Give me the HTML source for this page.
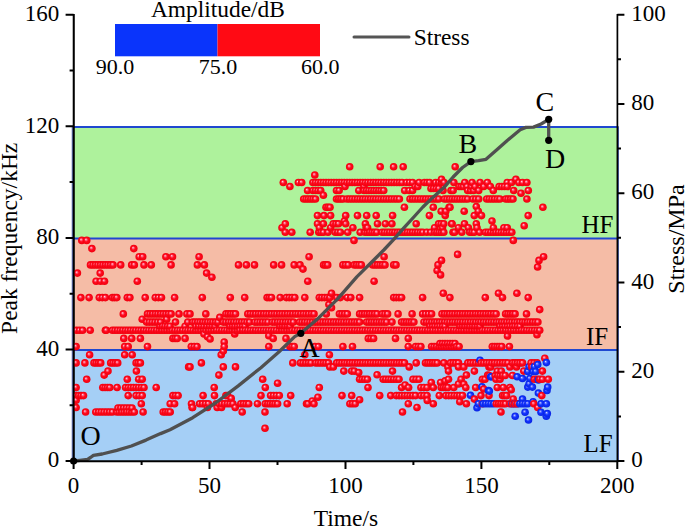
<!DOCTYPE html>
<html><head><meta charset="utf-8"><title>Peak frequency vs time</title>
<style>html,body{margin:0;padding:0;background:#fff;width:685px;height:528px;overflow:hidden}svg{display:block}</style>
</head><body>
<svg width="685" height="528" viewBox="0 0 685 528">
<defs>
<radialGradient id="gr" cx="50%" cy="50%" r="50%" fx="38%" fy="36%">
<stop offset="0" stop-color="#ffe0ee"/><stop offset="0.22" stop-color="#ff6a86"/><stop offset="0.5" stop-color="#ff0a1e"/><stop offset="1" stop-color="#f0000e"/></radialGradient>
<radialGradient id="gb" cx="50%" cy="50%" r="50%" fx="38%" fy="36%">
<stop offset="0" stop-color="#e0e4ff"/><stop offset="0.22" stop-color="#6a7cff"/><stop offset="0.5" stop-color="#1032ff"/><stop offset="1" stop-color="#0a24e0"/></radialGradient>
<symbol id="r" overflow="visible"><circle r="3.8" fill="url(#gr)"/></symbol>
<symbol id="b" overflow="visible"><circle r="3.8" fill="url(#gb)"/></symbol>
<clipPath id="pc"><rect x="72.8" y="0" width="560" height="470"/></clipPath>
</defs>
<rect width="685" height="528" fill="#fff"/>
<rect x="73.6" y="126.3" width="543.8" height="111.6" fill="#aef29c"/>
<rect x="73.6" y="237.9" width="543.8" height="111.6" fill="#f5bca6"/>
<rect x="73.6" y="349.4" width="543.8" height="111.6" fill="#a5cff6"/>
<line x1="73.6" x2="617.4" y1="127" y2="127" stroke="#1f48d0" stroke-width="2"/>
<line x1="73.6" x2="617.4" y1="238.6" y2="238.6" stroke="#1f48d0" stroke-width="2"/>
<line x1="73.6" x2="617.4" y1="350.1" y2="350.1" stroke="#1f48d0" stroke-width="2"/>
<line x1="72.3" x2="72.3" y1="126.3" y2="461.0" stroke="#4a60b0" stroke-width="1.1"/>
<line x1="618.4" x2="618.4" y1="126.3" y2="461.0" stroke="#4a60b0" stroke-width="1.1"/>
<g stroke="#000" stroke-width="1.7" fill="none"><path d="M73.7,13.9V462"/></g>
<g clip-path="url(#pc)">
<use href="#r" x="76.1" y="346.6"/>
<use href="#r" x="76.1" y="362.9"/>
<use href="#r" x="76.1" y="387.5"/>
<use href="#r" x="76.1" y="395.6"/>
<use href="#r" x="76.1" y="400.2"/>
<use href="#r" x="76.1" y="407.5"/>
<use href="#r" x="76.5" y="330.3"/>
<use href="#r" x="77.4" y="273.1"/>
<use href="#r" x="78.6" y="395.6"/>
<use href="#r" x="79.5" y="330.3"/>
<use href="#r" x="80.9" y="297.6"/>
<use href="#r" x="81" y="395.6"/>
<use href="#r" x="81.8" y="240.4"/>
<use href="#r" x="82.6" y="330.3"/>
<use href="#r" x="83.5" y="395.6"/>
<use href="#r" x="84.9" y="362.9"/>
<use href="#r" x="85.6" y="412"/>
<use href="#r" x="86.7" y="240.4"/>
<use href="#r" x="86.7" y="379.3"/>
<use href="#r" x="89.1" y="297.6"/>
<use href="#r" x="89.6" y="354.8"/>
<use href="#r" x="90.2" y="330.3"/>
<use href="#r" x="90.5" y="264.9"/>
<use href="#r" x="91.9" y="248.6"/>
<use href="#r" x="93" y="264.9"/>
<use href="#r" x="94" y="362.9"/>
<use href="#r" x="95.5" y="264.9"/>
<use href="#r" x="95.8" y="412"/>
<use href="#r" x="96.1" y="281.2"/>
<use href="#r" x="96.2" y="362.9"/>
<use href="#r" x="98" y="264.9"/>
<use href="#r" x="98.5" y="362.9"/>
<use href="#r" x="98.6" y="412"/>
<use href="#r" x="99.3" y="297.6"/>
<use href="#r" x="100.2" y="273.1"/>
<use href="#r" x="100.5" y="264.9"/>
<use href="#r" x="100.5" y="281.2"/>
<use href="#r" x="100.7" y="362.9"/>
<use href="#r" x="101.3" y="412"/>
<use href="#r" x="102.3" y="297.6"/>
<use href="#r" x="102.8" y="387.5"/>
<use href="#r" x="103" y="264.9"/>
<use href="#r" x="104.1" y="412"/>
<use href="#r" x="104.2" y="375.1"/>
<use href="#r" x="104.5" y="281.2"/>
<use href="#r" x="105.1" y="387.5"/>
<use href="#r" x="105.4" y="297.6"/>
<use href="#r" x="105.4" y="330.3"/>
<use href="#r" x="105.5" y="264.9"/>
<use href="#r" x="106.3" y="330.3"/>
<use href="#r" x="106.9" y="412"/>
<use href="#r" x="107.5" y="387.5"/>
<use href="#r" x="108" y="264.9"/>
<use href="#r" x="108" y="371.1"/>
<use href="#r" x="109.6" y="412"/>
<use href="#r" x="109.8" y="387.5"/>
<use href="#r" x="110.5" y="264.9"/>
<use href="#r" x="110.7" y="362.9"/>
<use href="#r" x="112.4" y="297.6"/>
<use href="#r" x="112.4" y="330.3"/>
<use href="#r" x="112.4" y="412"/>
<use href="#r" x="113" y="264.9"/>
<use href="#r" x="113" y="362.9"/>
<use href="#r" x="114.6" y="297.6"/>
<use href="#r" x="115" y="330.3"/>
<use href="#r" x="115.4" y="362.9"/>
<use href="#r" x="116.8" y="297.6"/>
<use href="#r" x="116.8" y="412"/>
<use href="#r" x="117.1" y="387.5"/>
<use href="#r" x="117.6" y="330.3"/>
<use href="#r" x="117.7" y="362.9"/>
<use href="#r" x="118" y="408"/>
<use href="#r" x="119.3" y="412"/>
<use href="#r" x="120.2" y="330.3"/>
<use href="#r" x="120.7" y="264.9"/>
<use href="#r" x="120.8" y="408"/>
<use href="#r" x="121.8" y="412"/>
<use href="#r" x="122.8" y="330.3"/>
<use href="#r" x="123.3" y="313.9"/>
<use href="#r" x="123.6" y="408"/>
<use href="#r" x="123.8" y="338.4"/>
<use href="#r" x="124.3" y="412"/>
<use href="#r" x="124.7" y="346.6"/>
<use href="#r" x="124.7" y="354.8"/>
<use href="#r" x="125.4" y="330.3"/>
<use href="#r" x="125.6" y="387.5"/>
<use href="#r" x="126.4" y="408"/>
<use href="#r" x="126.8" y="412"/>
<use href="#r" x="127.3" y="297.6"/>
<use href="#r" x="127.3" y="379.3"/>
<use href="#r" x="128" y="330.3"/>
<use href="#r" x="128.2" y="346.6"/>
<use href="#r" x="128.2" y="395.6"/>
<use href="#r" x="128.2" y="387.5"/>
<use href="#r" x="129.2" y="408"/>
<use href="#r" x="129.3" y="412"/>
<use href="#r" x="129.9" y="297.6"/>
<use href="#r" x="130.6" y="330.3"/>
<use href="#r" x="130.9" y="387.5"/>
<use href="#r" x="131.7" y="264.9"/>
<use href="#r" x="131.7" y="338.4"/>
<use href="#r" x="131.8" y="412"/>
<use href="#r" x="132" y="408"/>
<use href="#r" x="132.2" y="354.8"/>
<use href="#r" x="133.2" y="330.3"/>
<use href="#r" x="133.5" y="387.5"/>
<use href="#r" x="133.8" y="248.6"/>
<use href="#r" x="134.3" y="264.9"/>
<use href="#r" x="134.3" y="412"/>
<use href="#r" x="135.8" y="330.3"/>
<use href="#r" x="136.1" y="362.9"/>
<use href="#r" x="136.1" y="395.6"/>
<use href="#r" x="136.1" y="387.5"/>
<use href="#r" x="136.4" y="371.1"/>
<use href="#r" x="137.3" y="281.2"/>
<use href="#r" x="138.2" y="362.9"/>
<use href="#r" x="138.5" y="330.3"/>
<use href="#r" x="138.7" y="379.3"/>
<use href="#r" x="138.7" y="387.5"/>
<use href="#r" x="139.1" y="395.6"/>
<use href="#r" x="139.2" y="256.7"/>
<use href="#r" x="140.4" y="338.4"/>
<use href="#r" x="140.4" y="362.9"/>
<use href="#r" x="141.1" y="330.3"/>
<use href="#r" x="141.3" y="403.8"/>
<use href="#r" x="141.4" y="387.5"/>
<use href="#r" x="142.2" y="319.2"/>
<use href="#r" x="142.2" y="379.3"/>
<use href="#r" x="142.2" y="395.6"/>
<use href="#r" x="142.7" y="256.7"/>
<use href="#r" x="143.1" y="412"/>
<use href="#r" x="143.7" y="330.3"/>
<use href="#r" x="144" y="264.9"/>
<use href="#r" x="144" y="387.5"/>
<use href="#r" x="145.2" y="297.6"/>
<use href="#r" x="146.3" y="330.3"/>
<use href="#r" x="146.6" y="322.1"/>
<use href="#r" x="147.5" y="313.9"/>
<use href="#r" x="147.5" y="346.6"/>
<use href="#r" x="148.9" y="330.3"/>
<use href="#r" x="149.4" y="322.1"/>
<use href="#r" x="150.1" y="313.9"/>
<use href="#r" x="151.3" y="264.9"/>
<use href="#r" x="151.5" y="330.3"/>
<use href="#r" x="152.2" y="322.1"/>
<use href="#r" x="152.7" y="313.9"/>
<use href="#r" x="154.1" y="330.3"/>
<use href="#r" x="155" y="322.1"/>
<use href="#r" x="155.3" y="297.6"/>
<use href="#r" x="155.4" y="313.9"/>
<use href="#r" x="156.2" y="387.5"/>
<use href="#r" x="156.7" y="330.3"/>
<use href="#r" x="157.8" y="322.1"/>
<use href="#r" x="158" y="313.9"/>
<use href="#r" x="158.4" y="297.6"/>
<use href="#r" x="159.3" y="330.3"/>
<use href="#r" x="160" y="326.2"/>
<use href="#r" x="160.6" y="322.1"/>
<use href="#r" x="160.6" y="313.9"/>
<use href="#r" x="161.5" y="297.6"/>
<use href="#r" x="161.9" y="330.3"/>
<use href="#r" x="162.5" y="326.2"/>
<use href="#r" x="163.2" y="412"/>
<use href="#r" x="163.2" y="313.9"/>
<use href="#r" x="164.5" y="330.3"/>
<use href="#r" x="165" y="326.2"/>
<use href="#r" x="165.5" y="412"/>
<use href="#r" x="165.9" y="313.9"/>
<use href="#r" x="165.9" y="256.7"/>
<use href="#r" x="166.7" y="319.2"/>
<use href="#r" x="167.1" y="330.3"/>
<use href="#r" x="167.5" y="326.2"/>
<use href="#r" x="167.9" y="412"/>
<use href="#r" x="168.5" y="313.9"/>
<use href="#r" x="169.7" y="330.3"/>
<use href="#r" x="170" y="326.2"/>
<use href="#r" x="170.2" y="403.8"/>
<use href="#r" x="170.2" y="412"/>
<use href="#r" x="171.1" y="264.9"/>
<use href="#r" x="171.1" y="313.9"/>
<use href="#r" x="172.3" y="330.3"/>
<use href="#r" x="172.5" y="256.7"/>
<use href="#r" x="172.9" y="338.4"/>
<use href="#r" x="172.9" y="395.6"/>
<use href="#r" x="174.6" y="297.6"/>
<use href="#r" x="174.6" y="403.8"/>
<use href="#r" x="174.9" y="330.3"/>
<use href="#r" x="175.1" y="338.4"/>
<use href="#r" x="175.5" y="322.1"/>
<use href="#r" x="175.5" y="395.6"/>
<use href="#r" x="177.2" y="338.4"/>
<use href="#r" x="177.5" y="330.3"/>
<use href="#r" x="178.1" y="395.6"/>
<use href="#r" x="179" y="313.9"/>
<use href="#r" x="180.1" y="330.3"/>
<use href="#r" x="182.7" y="330.3"/>
<use href="#r" x="185.1" y="326.2"/>
<use href="#r" x="185.1" y="338.4"/>
<use href="#r" x="185.4" y="330.3"/>
<use href="#r" x="186.9" y="313.9"/>
<use href="#r" x="187.8" y="322.1"/>
<use href="#r" x="188" y="330.3"/>
<use href="#r" x="188.6" y="366.9"/>
<use href="#r" x="190" y="313.9"/>
<use href="#r" x="190" y="366.9"/>
<use href="#r" x="190.6" y="330.3"/>
<use href="#r" x="191.3" y="346.6"/>
<use href="#r" x="191.5" y="403.8"/>
<use href="#r" x="192.1" y="407.5"/>
<use href="#r" x="192.6" y="322.1"/>
<use href="#r" x="192.6" y="407.5"/>
<use href="#r" x="193.2" y="330.3"/>
<use href="#r" x="194.2" y="346.6"/>
<use href="#r" x="195.1" y="322.1"/>
<use href="#r" x="195.8" y="330.3"/>
<use href="#r" x="196" y="326.2"/>
<use href="#r" x="197" y="346.6"/>
<use href="#r" x="197.4" y="264.9"/>
<use href="#r" x="197.7" y="322.1"/>
<use href="#r" x="198.4" y="330.3"/>
<use href="#r" x="198.7" y="326.2"/>
<use href="#r" x="199.1" y="256.7"/>
<use href="#r" x="199.6" y="403.8"/>
<use href="#r" x="200.2" y="322.1"/>
<use href="#r" x="201" y="330.3"/>
<use href="#r" x="201.4" y="362.9"/>
<use href="#r" x="201.4" y="326.2"/>
<use href="#r" x="202.3" y="297.6"/>
<use href="#r" x="202.5" y="403.8"/>
<use href="#r" x="202.8" y="322.1"/>
<use href="#r" x="203.1" y="395.6"/>
<use href="#r" x="203.6" y="330.3"/>
<use href="#r" x="204" y="334"/>
<use href="#r" x="204.1" y="326.2"/>
<use href="#r" x="204.4" y="264.9"/>
<use href="#r" x="205.3" y="322.1"/>
<use href="#r" x="205.5" y="403.8"/>
<use href="#r" x="205.8" y="313.9"/>
<use href="#r" x="206.2" y="330.3"/>
<use href="#r" x="206.6" y="273.1"/>
<use href="#r" x="206.9" y="326.2"/>
<use href="#r" x="207.5" y="336.7"/>
<use href="#r" x="207.5" y="407.5"/>
<use href="#r" x="207.8" y="322.1"/>
<use href="#r" x="208.4" y="403.8"/>
<use href="#r" x="208.8" y="330.3"/>
<use href="#r" x="209.6" y="326.2"/>
<use href="#r" x="210.1" y="339"/>
<use href="#r" x="210.4" y="322.1"/>
<use href="#r" x="211.4" y="330.3"/>
<use href="#r" x="211.9" y="277.2"/>
<use href="#r" x="212.3" y="326.2"/>
<use href="#r" x="212.9" y="322.1"/>
<use href="#r" x="214" y="330.3"/>
<use href="#r" x="214.2" y="387.5"/>
<use href="#r" x="214.5" y="395.6"/>
<use href="#r" x="215" y="326.2"/>
<use href="#r" x="215.5" y="322.1"/>
<use href="#r" x="216.3" y="403.8"/>
<use href="#r" x="216.6" y="330.3"/>
<use href="#r" x="217.2" y="407.5"/>
<use href="#r" x="218" y="322.1"/>
<use href="#r" x="218.9" y="375.1"/>
<use href="#r" x="219.1" y="403.8"/>
<use href="#r" x="219.2" y="330.3"/>
<use href="#r" x="219.8" y="317.4"/>
<use href="#r" x="221.2" y="354.8"/>
<use href="#r" x="221.5" y="407.5"/>
<use href="#r" x="221.8" y="330.3"/>
<use href="#r" x="221.8" y="403.8"/>
<use href="#r" x="223.3" y="322.1"/>
<use href="#r" x="223.3" y="351.1"/>
<use href="#r" x="223.3" y="366.9"/>
<use href="#r" x="224.2" y="342"/>
<use href="#r" x="224.2" y="346.6"/>
<use href="#r" x="224.4" y="330.3"/>
<use href="#r" x="224.6" y="403.8"/>
<use href="#r" x="225.9" y="313.9"/>
<use href="#r" x="225.9" y="395.6"/>
<use href="#r" x="225.9" y="322.1"/>
<use href="#r" x="227" y="330.3"/>
<use href="#r" x="227.4" y="403.8"/>
<use href="#r" x="227.7" y="395.6"/>
<use href="#r" x="228.3" y="313.9"/>
<use href="#r" x="228.6" y="322.1"/>
<use href="#r" x="229.6" y="330.3"/>
<use href="#r" x="230" y="326.2"/>
<use href="#r" x="230.1" y="403.8"/>
<use href="#r" x="230.3" y="297.6"/>
<use href="#r" x="230.7" y="313.9"/>
<use href="#r" x="231.2" y="322.1"/>
<use href="#r" x="231.2" y="398.4"/>
<use href="#r" x="232.3" y="330.3"/>
<use href="#r" x="232.5" y="326.2"/>
<use href="#r" x="232.9" y="403.8"/>
<use href="#r" x="233.1" y="313.9"/>
<use href="#r" x="233.8" y="322.1"/>
<use href="#r" x="234.7" y="334"/>
<use href="#r" x="234.9" y="330.3"/>
<use href="#r" x="235" y="326.2"/>
<use href="#r" x="235.2" y="407.5"/>
<use href="#r" x="235.5" y="313.9"/>
<use href="#r" x="235.5" y="366.9"/>
<use href="#r" x="236.4" y="322.1"/>
<use href="#r" x="237.5" y="330.3"/>
<use href="#r" x="237.5" y="326.2"/>
<use href="#r" x="238.5" y="264.9"/>
<use href="#r" x="239.1" y="322.1"/>
<use href="#r" x="240" y="326.2"/>
<use href="#r" x="240.1" y="330.3"/>
<use href="#r" x="240.8" y="403.8"/>
<use href="#r" x="241.7" y="322.1"/>
<use href="#r" x="242.2" y="412"/>
<use href="#r" x="242.5" y="326.2"/>
<use href="#r" x="242.7" y="330.3"/>
<use href="#r" x="243.4" y="403.8"/>
<use href="#r" x="244.3" y="322.1"/>
<use href="#r" x="244.7" y="297.6"/>
<use href="#r" x="245" y="326.2"/>
<use href="#r" x="245.3" y="330.3"/>
<use href="#r" x="246.1" y="403.8"/>
<use href="#r" x="246.4" y="264.9"/>
<use href="#r" x="247" y="322.1"/>
<use href="#r" x="247.8" y="313.9"/>
<use href="#r" x="247.9" y="330.3"/>
<use href="#r" x="248.7" y="403.8"/>
<use href="#r" x="249.6" y="322.1"/>
<use href="#r" x="250.4" y="313.9"/>
<use href="#r" x="250.5" y="330.3"/>
<use href="#r" x="253.1" y="313.9"/>
<use href="#r" x="253.1" y="330.3"/>
<use href="#r" x="254.5" y="264.9"/>
<use href="#r" x="254.8" y="322.1"/>
<use href="#r" x="255.7" y="330.3"/>
<use href="#r" x="255.7" y="313.9"/>
<use href="#r" x="257.4" y="403.8"/>
<use href="#r" x="257.4" y="322.1"/>
<use href="#r" x="258.3" y="330.3"/>
<use href="#r" x="258.4" y="313.9"/>
<use href="#r" x="260.1" y="322.1"/>
<use href="#r" x="260.9" y="330.3"/>
<use href="#r" x="261" y="395.6"/>
<use href="#r" x="261" y="313.9"/>
<use href="#r" x="262.7" y="379.3"/>
<use href="#r" x="262.7" y="322.1"/>
<use href="#r" x="263.5" y="330.3"/>
<use href="#r" x="263.7" y="313.9"/>
<use href="#r" x="265" y="412"/>
<use href="#r" x="265" y="428.3"/>
<use href="#r" x="265.3" y="387.5"/>
<use href="#r" x="265.3" y="403.8"/>
<use href="#r" x="265.4" y="322.1"/>
<use href="#r" x="266.1" y="330.3"/>
<use href="#r" x="266.3" y="313.9"/>
<use href="#r" x="267.1" y="297.6"/>
<use href="#r" x="267.8" y="403.8"/>
<use href="#r" x="268" y="322.1"/>
<use href="#r" x="268.7" y="330.3"/>
<use href="#r" x="268.8" y="335.8"/>
<use href="#r" x="268.8" y="346.6"/>
<use href="#r" x="269" y="313.9"/>
<use href="#r" x="269.3" y="297.6"/>
<use href="#r" x="270.2" y="403.8"/>
<use href="#r" x="270.6" y="395.6"/>
<use href="#r" x="271.3" y="330.3"/>
<use href="#r" x="271.5" y="297.6"/>
<use href="#r" x="271.6" y="313.9"/>
<use href="#r" x="272.3" y="322.1"/>
<use href="#r" x="272.7" y="403.8"/>
<use href="#r" x="273.2" y="338.4"/>
<use href="#r" x="273.5" y="395.6"/>
<use href="#r" x="273.7" y="264.9"/>
<use href="#r" x="273.9" y="330.3"/>
<use href="#r" x="274.3" y="313.9"/>
<use href="#r" x="274.9" y="322.1"/>
<use href="#r" x="275.1" y="403.8"/>
<use href="#r" x="276.4" y="395.6"/>
<use href="#r" x="276.5" y="330.3"/>
<use href="#r" x="276.9" y="313.9"/>
<use href="#r" x="277.6" y="322.1"/>
<use href="#r" x="277.6" y="383.2"/>
<use href="#r" x="277.6" y="403.8"/>
<use href="#r" x="279.2" y="330.3"/>
<use href="#r" x="279.3" y="395.6"/>
<use href="#r" x="279.6" y="313.9"/>
<use href="#r" x="280" y="326.2"/>
<use href="#r" x="280.2" y="297.6"/>
<use href="#r" x="280.2" y="322.1"/>
<use href="#r" x="281.6" y="264.9"/>
<use href="#r" x="281.8" y="330.3"/>
<use href="#r" x="282" y="227.7"/>
<use href="#r" x="282.2" y="313.9"/>
<use href="#r" x="282.5" y="326.2"/>
<use href="#r" x="282.9" y="322.1"/>
<use href="#r" x="283.3" y="182.5"/>
<use href="#r" x="284.4" y="330.3"/>
<use href="#r" x="284.9" y="313.9"/>
<use href="#r" x="285" y="326.2"/>
<use href="#r" x="285.3" y="223.8"/>
<use href="#r" x="285.3" y="232.3"/>
<use href="#r" x="285.5" y="322.1"/>
<use href="#r" x="286" y="338.4"/>
<use href="#r" x="286.4" y="297.6"/>
<use href="#r" x="287" y="330.3"/>
<use href="#r" x="287.2" y="403.8"/>
<use href="#r" x="287.5" y="326.2"/>
<use href="#r" x="287.5" y="313.9"/>
<use href="#r" x="288.1" y="322.1"/>
<use href="#r" x="289.2" y="297.6"/>
<use href="#r" x="289.6" y="330.3"/>
<use href="#r" x="289.9" y="186.5"/>
<use href="#r" x="289.9" y="346.6"/>
<use href="#r" x="290" y="326.2"/>
<use href="#r" x="290.2" y="313.9"/>
<use href="#r" x="290.7" y="395.6"/>
<use href="#r" x="290.8" y="322.1"/>
<use href="#r" x="291.8" y="232.3"/>
<use href="#r" x="292" y="297.6"/>
<use href="#r" x="292" y="346.6"/>
<use href="#r" x="292.2" y="330.3"/>
<use href="#r" x="292.8" y="362.9"/>
<use href="#r" x="292.8" y="313.9"/>
<use href="#r" x="293.4" y="322.1"/>
<use href="#r" x="294.2" y="264.9"/>
<use href="#r" x="294.2" y="346.6"/>
<use href="#r" x="294.8" y="330.3"/>
<use href="#r" x="294.8" y="297.6"/>
<use href="#r" x="295.5" y="313.9"/>
<use href="#r" x="297.4" y="330.3"/>
<use href="#r" x="298.1" y="313.9"/>
<use href="#r" x="298.4" y="182.5"/>
<use href="#r" x="299.5" y="322.1"/>
<use href="#r" x="300" y="330.3"/>
<use href="#r" x="300" y="264.9"/>
<use href="#r" x="300.5" y="362.9"/>
<use href="#r" x="300.8" y="313.9"/>
<use href="#r" x="301.7" y="182.5"/>
<use href="#r" x="302.1" y="322.1"/>
<use href="#r" x="302.6" y="330.3"/>
<use href="#r" x="303" y="269.1"/>
<use href="#r" x="303.1" y="362.9"/>
<use href="#r" x="303.4" y="313.9"/>
<use href="#r" x="303.7" y="199"/>
<use href="#r" x="304.7" y="322.1"/>
<use href="#r" x="304.8" y="297.6"/>
<use href="#r" x="304.8" y="354.8"/>
<use href="#r" x="305.2" y="330.3"/>
<use href="#r" x="305.8" y="362.9"/>
<use href="#r" x="306.1" y="313.9"/>
<use href="#r" x="306.1" y="199"/>
<use href="#r" x="306.5" y="403.8"/>
<use href="#r" x="307.3" y="322.1"/>
<use href="#r" x="307.6" y="190.5"/>
<use href="#r" x="307.8" y="281.2"/>
<use href="#r" x="307.8" y="330.3"/>
<use href="#r" x="307.9" y="403.8"/>
<use href="#r" x="308.4" y="362.9"/>
<use href="#r" x="308.4" y="199"/>
<use href="#r" x="308.7" y="313.9"/>
<use href="#r" x="309.1" y="256.7"/>
<use href="#r" x="310" y="322.1"/>
<use href="#r" x="310.2" y="232.3"/>
<use href="#r" x="310.4" y="330.3"/>
<use href="#r" x="310.8" y="199"/>
<use href="#r" x="311" y="362.9"/>
<use href="#r" x="311.4" y="313.9"/>
<use href="#r" x="312.3" y="401"/>
<use href="#r" x="312.6" y="322.1"/>
<use href="#r" x="312.9" y="182.5"/>
<use href="#r" x="312.9" y="190.5"/>
<use href="#r" x="313" y="330.3"/>
<use href="#r" x="313.1" y="199"/>
<use href="#r" x="314" y="313.9"/>
<use href="#r" x="314" y="403.8"/>
<use href="#r" x="314.8" y="175"/>
<use href="#r" x="314.9" y="346.6"/>
<use href="#r" x="315.2" y="322.1"/>
<use href="#r" x="315.5" y="190.5"/>
<use href="#r" x="315.5" y="199"/>
<use href="#r" x="315.5" y="182.5"/>
<use href="#r" x="315.6" y="330.3"/>
<use href="#r" x="315.7" y="362.9"/>
<use href="#r" x="317.5" y="215.6"/>
<use href="#r" x="317.5" y="223.8"/>
<use href="#r" x="317.8" y="322.1"/>
<use href="#r" x="317.9" y="397.2"/>
<use href="#r" x="318.1" y="190.5"/>
<use href="#r" x="318.1" y="182.5"/>
<use href="#r" x="318.2" y="330.3"/>
<use href="#r" x="318.3" y="362.9"/>
<use href="#r" x="318.4" y="346.6"/>
<use href="#r" x="318.8" y="232.3"/>
<use href="#r" x="319.3" y="297.6"/>
<use href="#r" x="319.3" y="387.5"/>
<use href="#r" x="319.4" y="227.7"/>
<use href="#r" x="320.4" y="322.1"/>
<use href="#r" x="320.7" y="190.5"/>
<use href="#r" x="320.8" y="182.5"/>
<use href="#r" x="320.8" y="362.9"/>
<use href="#r" x="320.8" y="330.3"/>
<use href="#r" x="321.1" y="232.3"/>
<use href="#r" x="321.9" y="297.6"/>
<use href="#r" x="323" y="322.1"/>
<use href="#r" x="323.4" y="362.9"/>
<use href="#r" x="323.4" y="182.5"/>
<use href="#r" x="323.4" y="195.2"/>
<use href="#r" x="323.4" y="223.8"/>
<use href="#r" x="323.4" y="232.3"/>
<use href="#r" x="323.4" y="330.3"/>
<use href="#r" x="323.6" y="264.9"/>
<use href="#r" x="324" y="215.6"/>
<use href="#r" x="324.6" y="297.6"/>
<use href="#r" x="325.6" y="322.1"/>
<use href="#r" x="325.6" y="264.9"/>
<use href="#r" x="325.9" y="362.9"/>
<use href="#r" x="326" y="207.3"/>
<use href="#r" x="326" y="182.5"/>
<use href="#r" x="326.1" y="330.3"/>
<use href="#r" x="326.3" y="313.9"/>
<use href="#r" x="327.2" y="297.6"/>
<use href="#r" x="327.7" y="264.9"/>
<use href="#r" x="328" y="207.3"/>
<use href="#r" x="328" y="232.3"/>
<use href="#r" x="328.2" y="322.1"/>
<use href="#r" x="328.5" y="362.9"/>
<use href="#r" x="328.6" y="182.5"/>
<use href="#r" x="328.7" y="330.3"/>
<use href="#r" x="328.9" y="304.6"/>
<use href="#r" x="329.4" y="354.8"/>
<use href="#r" x="329.8" y="297.6"/>
<use href="#r" x="329.8" y="366.9"/>
<use href="#r" x="330" y="207.3"/>
<use href="#r" x="330.6" y="215.6"/>
<use href="#r" x="330.6" y="227.7"/>
<use href="#r" x="330.9" y="322.1"/>
<use href="#r" x="331.2" y="182.5"/>
<use href="#r" x="331.3" y="330.3"/>
<use href="#r" x="331.5" y="293.3"/>
<use href="#r" x="331.5" y="307.8"/>
<use href="#r" x="333.2" y="223.8"/>
<use href="#r" x="333.3" y="366.9"/>
<use href="#r" x="333.5" y="322.1"/>
<use href="#r" x="333.9" y="182.5"/>
<use href="#r" x="333.9" y="330.3"/>
<use href="#r" x="335.2" y="232.3"/>
<use href="#r" x="335.9" y="223.8"/>
<use href="#r" x="336.1" y="322.1"/>
<use href="#r" x="336.5" y="330.3"/>
<use href="#r" x="336.5" y="182.5"/>
<use href="#r" x="336.5" y="190.5"/>
<use href="#r" x="336.5" y="199"/>
<use href="#r" x="336.7" y="362.9"/>
<use href="#r" x="336.8" y="297.6"/>
<use href="#r" x="337.8" y="232.3"/>
<use href="#r" x="338.5" y="223.8"/>
<use href="#r" x="338.7" y="322.1"/>
<use href="#r" x="338.7" y="199"/>
<use href="#r" x="339.1" y="330.3"/>
<use href="#r" x="339.1" y="190.5"/>
<use href="#r" x="339.1" y="182.5"/>
<use href="#r" x="339.3" y="362.9"/>
<use href="#r" x="339.4" y="313.9"/>
<use href="#r" x="340.3" y="297.6"/>
<use href="#r" x="340.4" y="232.3"/>
<use href="#r" x="340.9" y="199"/>
<use href="#r" x="341.3" y="322.1"/>
<use href="#r" x="341.7" y="330.3"/>
<use href="#r" x="341.7" y="182.5"/>
<use href="#r" x="341.9" y="362.9"/>
<use href="#r" x="342" y="395.6"/>
<use href="#r" x="342" y="313.9"/>
<use href="#r" x="342.9" y="264.9"/>
<use href="#r" x="342.9" y="346.6"/>
<use href="#r" x="343.1" y="199"/>
<use href="#r" x="343.8" y="371.1"/>
<use href="#r" x="343.9" y="322.1"/>
<use href="#r" x="344.3" y="330.3"/>
<use href="#r" x="344.3" y="182.5"/>
<use href="#r" x="344.4" y="221"/>
<use href="#r" x="344.5" y="362.9"/>
<use href="#r" x="344.7" y="313.9"/>
<use href="#r" x="345" y="186.5"/>
<use href="#r" x="345.5" y="264.9"/>
<use href="#r" x="345.7" y="215.6"/>
<use href="#r" x="345.7" y="223.8"/>
<use href="#r" x="346.5" y="322.1"/>
<use href="#r" x="346.9" y="330.3"/>
<use href="#r" x="347" y="182.5"/>
<use href="#r" x="347" y="199"/>
<use href="#r" x="347.1" y="362.9"/>
<use href="#r" x="347.3" y="297.6"/>
<use href="#r" x="347.3" y="313.9"/>
<use href="#r" x="347.7" y="232.3"/>
<use href="#r" x="348.2" y="264.9"/>
<use href="#r" x="349.1" y="322.1"/>
<use href="#r" x="349.5" y="330.3"/>
<use href="#r" x="349.6" y="182.5"/>
<use href="#r" x="349.6" y="199"/>
<use href="#r" x="349.7" y="166.8"/>
<use href="#r" x="349.7" y="362.9"/>
<use href="#r" x="349.9" y="403.8"/>
<use href="#r" x="350.8" y="297.6"/>
<use href="#r" x="351.7" y="371.1"/>
<use href="#r" x="351.7" y="395.6"/>
<use href="#r" x="351.8" y="322.1"/>
<use href="#r" x="352.1" y="330.3"/>
<use href="#r" x="352.2" y="182.5"/>
<use href="#r" x="352.2" y="199"/>
<use href="#r" x="352.3" y="362.9"/>
<use href="#r" x="352.5" y="346.6"/>
<use href="#r" x="352.5" y="403.8"/>
<use href="#r" x="352.9" y="227.7"/>
<use href="#r" x="354" y="240.4"/>
<use href="#r" x="354.3" y="264.9"/>
<use href="#r" x="354.3" y="371.1"/>
<use href="#r" x="354.4" y="322.1"/>
<use href="#r" x="354.7" y="330.3"/>
<use href="#r" x="354.8" y="182.5"/>
<use href="#r" x="354.9" y="199"/>
<use href="#r" x="355" y="362.9"/>
<use href="#r" x="355.2" y="403.8"/>
<use href="#r" x="356.6" y="264.9"/>
<use href="#r" x="357" y="322.1"/>
<use href="#r" x="357.3" y="330.3"/>
<use href="#r" x="357.4" y="182.5"/>
<use href="#r" x="357.5" y="199"/>
<use href="#r" x="357.5" y="215.6"/>
<use href="#r" x="357.6" y="362.9"/>
<use href="#r" x="358.7" y="372.6"/>
<use href="#r" x="358.8" y="190.5"/>
<use href="#r" x="359" y="264.9"/>
<use href="#r" x="359.6" y="297.6"/>
<use href="#r" x="359.6" y="313.9"/>
<use href="#r" x="359.6" y="322.1"/>
<use href="#r" x="359.6" y="379.3"/>
<use href="#r" x="359.6" y="399.7"/>
<use href="#r" x="359.9" y="330.3"/>
<use href="#r" x="360.1" y="182.5"/>
<use href="#r" x="360.1" y="199"/>
<use href="#r" x="360.2" y="362.9"/>
<use href="#r" x="360.2" y="232.3"/>
<use href="#r" x="361.3" y="264.9"/>
<use href="#r" x="362.1" y="313.9"/>
<use href="#r" x="362.2" y="379.3"/>
<use href="#r" x="362.5" y="330.3"/>
<use href="#r" x="362.7" y="182.5"/>
<use href="#r" x="362.7" y="199"/>
<use href="#r" x="362.8" y="362.9"/>
<use href="#r" x="364" y="186.5"/>
<use href="#r" x="364" y="190.5"/>
<use href="#r" x="364.6" y="313.9"/>
<use href="#r" x="364.8" y="379.3"/>
<use href="#r" x="365" y="232.3"/>
<use href="#r" x="365.1" y="330.3"/>
<use href="#r" x="365.3" y="182.5"/>
<use href="#r" x="365.3" y="199"/>
<use href="#r" x="365.4" y="362.9"/>
<use href="#r" x="365.4" y="223.8"/>
<use href="#r" x="366.1" y="227.7"/>
<use href="#r" x="366.5" y="190.5"/>
<use href="#r" x="366.6" y="322.1"/>
<use href="#r" x="366.7" y="215.6"/>
<use href="#r" x="367.1" y="313.9"/>
<use href="#r" x="367.4" y="232.3"/>
<use href="#r" x="367.4" y="379.3"/>
<use href="#r" x="367.6" y="227.7"/>
<use href="#r" x="367.7" y="330.3"/>
<use href="#r" x="367.9" y="182.5"/>
<use href="#r" x="368" y="199"/>
<use href="#r" x="368" y="362.9"/>
<use href="#r" x="368" y="387.5"/>
<use href="#r" x="368.3" y="338.4"/>
<use href="#r" x="368.9" y="190.5"/>
<use href="#r" x="369.1" y="322.1"/>
<use href="#r" x="369.6" y="313.9"/>
<use href="#r" x="369.7" y="232.3"/>
<use href="#r" x="370.3" y="330.3"/>
<use href="#r" x="370.6" y="182.5"/>
<use href="#r" x="370.6" y="199"/>
<use href="#r" x="370.6" y="362.9"/>
<use href="#r" x="371" y="338.4"/>
<use href="#r" x="371.4" y="190.5"/>
<use href="#r" x="371.6" y="322.1"/>
<use href="#r" x="372.1" y="232.3"/>
<use href="#r" x="372.1" y="313.9"/>
<use href="#r" x="372.7" y="264.9"/>
<use href="#r" x="372.9" y="330.3"/>
<use href="#r" x="373.2" y="182.5"/>
<use href="#r" x="373.2" y="199"/>
<use href="#r" x="373.2" y="362.9"/>
<use href="#r" x="373.6" y="338.4"/>
<use href="#r" x="373.9" y="190.5"/>
<use href="#r" x="374.1" y="281.2"/>
<use href="#r" x="374.1" y="322.1"/>
<use href="#r" x="374.4" y="232.3"/>
<use href="#r" x="374.6" y="313.9"/>
<use href="#r" x="375.2" y="264.9"/>
<use href="#r" x="375.6" y="330.3"/>
<use href="#r" x="375.8" y="182.5"/>
<use href="#r" x="375.8" y="362.9"/>
<use href="#r" x="375.8" y="199"/>
<use href="#r" x="376.2" y="215.6"/>
<use href="#r" x="376.3" y="190.5"/>
<use href="#r" x="376.6" y="322.1"/>
<use href="#r" x="376.8" y="232.3"/>
<use href="#r" x="377.1" y="313.9"/>
<use href="#r" x="377.1" y="374.8"/>
<use href="#r" x="377.5" y="223.8"/>
<use href="#r" x="377.6" y="264.9"/>
<use href="#r" x="378.2" y="330.3"/>
<use href="#r" x="378.4" y="182.5"/>
<use href="#r" x="378.4" y="362.9"/>
<use href="#r" x="378.4" y="199"/>
<use href="#r" x="378.8" y="190.5"/>
<use href="#r" x="379.2" y="322.1"/>
<use href="#r" x="379.7" y="395.6"/>
<use href="#r" x="380.1" y="264.9"/>
<use href="#r" x="380.2" y="166.8"/>
<use href="#r" x="380.8" y="330.3"/>
<use href="#r" x="381" y="362.9"/>
<use href="#r" x="381" y="182.5"/>
<use href="#r" x="381.1" y="199"/>
<use href="#r" x="381.2" y="190.5"/>
<use href="#r" x="381.7" y="322.1"/>
<use href="#r" x="382.1" y="232.3"/>
<use href="#r" x="382.3" y="313.9"/>
<use href="#r" x="382.5" y="264.9"/>
<use href="#r" x="383.2" y="379.3"/>
<use href="#r" x="383.4" y="330.3"/>
<use href="#r" x="383.6" y="362.9"/>
<use href="#r" x="383.7" y="182.5"/>
<use href="#r" x="383.7" y="199"/>
<use href="#r" x="383.7" y="190.5"/>
<use href="#r" x="384.1" y="256.7"/>
<use href="#r" x="384.2" y="322.1"/>
<use href="#r" x="384.6" y="232.3"/>
<use href="#r" x="385" y="313.9"/>
<use href="#r" x="385" y="264.9"/>
<use href="#r" x="385.4" y="223.8"/>
<use href="#r" x="385.8" y="379.3"/>
<use href="#r" x="386" y="330.3"/>
<use href="#r" x="386.2" y="362.9"/>
<use href="#r" x="386.3" y="182.5"/>
<use href="#r" x="386.3" y="199"/>
<use href="#r" x="386.7" y="322.1"/>
<use href="#r" x="387.2" y="232.3"/>
<use href="#r" x="387.6" y="313.9"/>
<use href="#r" x="388.5" y="379.3"/>
<use href="#r" x="388.6" y="330.3"/>
<use href="#r" x="388.9" y="362.9"/>
<use href="#r" x="388.9" y="182.5"/>
<use href="#r" x="388.9" y="199"/>
<use href="#r" x="389.7" y="232.3"/>
<use href="#r" x="390.7" y="395.6"/>
<use href="#r" x="391.1" y="379.3"/>
<use href="#r" x="391.2" y="330.3"/>
<use href="#r" x="391.5" y="362.9"/>
<use href="#r" x="391.5" y="182.5"/>
<use href="#r" x="391.5" y="199"/>
<use href="#r" x="391.9" y="223.8"/>
<use href="#r" x="392" y="322.1"/>
<use href="#r" x="392.3" y="232.3"/>
<use href="#r" x="392.5" y="371.1"/>
<use href="#r" x="392.6" y="215.6"/>
<use href="#r" x="393.6" y="166.8"/>
<use href="#r" x="393.7" y="264.9"/>
<use href="#r" x="393.7" y="297.6"/>
<use href="#r" x="393.7" y="379.3"/>
<use href="#r" x="393.8" y="330.3"/>
<use href="#r" x="394.1" y="362.9"/>
<use href="#r" x="394.1" y="182.5"/>
<use href="#r" x="394.2" y="199"/>
<use href="#r" x="394.8" y="232.3"/>
<use href="#r" x="395.5" y="338.4"/>
<use href="#r" x="396" y="264.9"/>
<use href="#r" x="396.3" y="395.6"/>
<use href="#r" x="396.3" y="297.6"/>
<use href="#r" x="396.4" y="379.3"/>
<use href="#r" x="396.4" y="330.3"/>
<use href="#r" x="396.7" y="362.9"/>
<use href="#r" x="396.8" y="182.5"/>
<use href="#r" x="396.8" y="199"/>
<use href="#r" x="397.4" y="232.3"/>
<use href="#r" x="398.1" y="313.9"/>
<use href="#r" x="399" y="297.6"/>
<use href="#r" x="399" y="379.3"/>
<use href="#r" x="399" y="330.3"/>
<use href="#r" x="399.1" y="395.6"/>
<use href="#r" x="399.3" y="362.9"/>
<use href="#r" x="399.4" y="182.5"/>
<use href="#r" x="399.4" y="199"/>
<use href="#r" x="399.9" y="232.3"/>
<use href="#r" x="401.6" y="297.6"/>
<use href="#r" x="401.6" y="322.1"/>
<use href="#r" x="401.6" y="387.5"/>
<use href="#r" x="401.6" y="330.3"/>
<use href="#r" x="401.8" y="395.6"/>
<use href="#r" x="401.9" y="362.9"/>
<use href="#r" x="402" y="182.5"/>
<use href="#r" x="402.5" y="232.3"/>
<use href="#r" x="402.5" y="412"/>
<use href="#r" x="403.2" y="166.8"/>
<use href="#r" x="404.1" y="322.1"/>
<use href="#r" x="404.2" y="330.3"/>
<use href="#r" x="404.4" y="207.3"/>
<use href="#r" x="404.5" y="362.9"/>
<use href="#r" x="404.6" y="395.6"/>
<use href="#r" x="404.7" y="190.5"/>
<use href="#r" x="405" y="232.3"/>
<use href="#r" x="405.1" y="385"/>
<use href="#r" x="406.5" y="322.1"/>
<use href="#r" x="406.6" y="182.5"/>
<use href="#r" x="406.8" y="330.3"/>
<use href="#r" x="407.3" y="395.6"/>
<use href="#r" x="407.5" y="232.3"/>
<use href="#r" x="408.3" y="338.4"/>
<use href="#r" x="408.3" y="346.6"/>
<use href="#r" x="408.3" y="403.8"/>
<use href="#r" x="408.6" y="387.5"/>
<use href="#r" x="409" y="322.1"/>
<use href="#r" x="409.2" y="366.9"/>
<use href="#r" x="409.3" y="190.5"/>
<use href="#r" x="409.4" y="330.3"/>
<use href="#r" x="409.6" y="182.5"/>
<use href="#r" x="410" y="199"/>
<use href="#r" x="410.1" y="232.3"/>
<use href="#r" x="410.1" y="395.6"/>
<use href="#r" x="411.4" y="322.1"/>
<use href="#r" x="412" y="330.3"/>
<use href="#r" x="412.1" y="313.9"/>
<use href="#r" x="412.6" y="182.5"/>
<use href="#r" x="412.6" y="190.5"/>
<use href="#r" x="412.6" y="199"/>
<use href="#r" x="412.6" y="232.3"/>
<use href="#r" x="412.8" y="395.6"/>
<use href="#r" x="413" y="379.3"/>
<use href="#r" x="413.9" y="322.1"/>
<use href="#r" x="414.6" y="330.3"/>
<use href="#r" x="415.2" y="232.3"/>
<use href="#r" x="415.2" y="186.5"/>
<use href="#r" x="415.2" y="199"/>
<use href="#r" x="415.6" y="346.6"/>
<use href="#r" x="415.6" y="395.6"/>
<use href="#r" x="416.1" y="379.3"/>
<use href="#r" x="416.2" y="223.8"/>
<use href="#r" x="416.2" y="362.9"/>
<use href="#r" x="417" y="407.5"/>
<use href="#r" x="417.2" y="330.3"/>
<use href="#r" x="417.7" y="232.3"/>
<use href="#r" x="417.8" y="186.5"/>
<use href="#r" x="417.9" y="199"/>
<use href="#r" x="418.2" y="346.6"/>
<use href="#r" x="419.1" y="182.5"/>
<use href="#r" x="419.1" y="379.3"/>
<use href="#r" x="419.8" y="330.3"/>
<use href="#r" x="420.3" y="232.3"/>
<use href="#r" x="420.5" y="199"/>
<use href="#r" x="420.9" y="346.6"/>
<use href="#r" x="420.9" y="387.5"/>
<use href="#r" x="420.9" y="395.6"/>
<use href="#r" x="422.5" y="330.3"/>
<use href="#r" x="422.6" y="297.6"/>
<use href="#r" x="422.6" y="313.9"/>
<use href="#r" x="422.8" y="232.3"/>
<use href="#r" x="423.1" y="199"/>
<use href="#r" x="423.9" y="387.5"/>
<use href="#r" x="423.9" y="395.6"/>
<use href="#r" x="424" y="322.1"/>
<use href="#r" x="424.4" y="182.5"/>
<use href="#r" x="425.1" y="330.3"/>
<use href="#r" x="425.5" y="362.9"/>
<use href="#r" x="425.6" y="313.9"/>
<use href="#r" x="425.7" y="199"/>
<use href="#r" x="426.6" y="322.1"/>
<use href="#r" x="426.8" y="232.3"/>
<use href="#r" x="427" y="182.5"/>
<use href="#r" x="427" y="387.5"/>
<use href="#r" x="427" y="395.6"/>
<use href="#r" x="427.3" y="400.4"/>
<use href="#r" x="427.7" y="330.3"/>
<use href="#r" x="427.9" y="362.9"/>
<use href="#r" x="428.3" y="199"/>
<use href="#r" x="428.6" y="313.9"/>
<use href="#r" x="429.2" y="322.1"/>
<use href="#r" x="429.4" y="215.6"/>
<use href="#r" x="429.6" y="182.5"/>
<use href="#r" x="430" y="326.2"/>
<use href="#r" x="430.2" y="362.9"/>
<use href="#r" x="430.3" y="330.3"/>
<use href="#r" x="430.7" y="232.3"/>
<use href="#r" x="430.9" y="199"/>
<use href="#r" x="431" y="188.5"/>
<use href="#r" x="431.3" y="382.5"/>
<use href="#r" x="431.6" y="313.9"/>
<use href="#r" x="431.6" y="346.6"/>
<use href="#r" x="431.8" y="322.1"/>
<use href="#r" x="432.5" y="326.2"/>
<use href="#r" x="432.6" y="362.9"/>
<use href="#r" x="432.9" y="330.3"/>
<use href="#r" x="433.3" y="207.3"/>
<use href="#r" x="433.3" y="387.5"/>
<use href="#r" x="433.3" y="403.8"/>
<use href="#r" x="433.6" y="199"/>
<use href="#r" x="433.6" y="188.5"/>
<use href="#r" x="434.1" y="346.6"/>
<use href="#r" x="434.4" y="322.1"/>
<use href="#r" x="434.6" y="227.7"/>
<use href="#r" x="434.6" y="232.3"/>
<use href="#r" x="434.9" y="362.9"/>
<use href="#r" x="435" y="326.2"/>
<use href="#r" x="435.5" y="330.3"/>
<use href="#r" x="435.6" y="182.5"/>
<use href="#r" x="436.2" y="199"/>
<use href="#r" x="436.2" y="188.5"/>
<use href="#r" x="436.6" y="346.6"/>
<use href="#r" x="436.9" y="232.3"/>
<use href="#r" x="436.9" y="322.1"/>
<use href="#r" x="437.1" y="270.5"/>
<use href="#r" x="437.3" y="362.9"/>
<use href="#r" x="437.5" y="326.2"/>
<use href="#r" x="438" y="264.9"/>
<use href="#r" x="438.1" y="330.3"/>
<use href="#r" x="438.6" y="223.8"/>
<use href="#r" x="438.8" y="182.5"/>
<use href="#r" x="438.8" y="188.5"/>
<use href="#r" x="438.8" y="199"/>
<use href="#r" x="439.1" y="346.6"/>
<use href="#r" x="439.2" y="232.3"/>
<use href="#r" x="439.3" y="395.6"/>
<use href="#r" x="439.5" y="322.1"/>
<use href="#r" x="440" y="326.2"/>
<use href="#r" x="440" y="343.5"/>
<use href="#r" x="440.6" y="274.9"/>
<use href="#r" x="440.6" y="382.5"/>
<use href="#r" x="440.7" y="330.3"/>
<use href="#r" x="441.2" y="211.2"/>
<use href="#r" x="441.2" y="387.5"/>
<use href="#r" x="441.2" y="223.8"/>
<use href="#r" x="441.5" y="182.5"/>
<use href="#r" x="441.5" y="179.3"/>
<use href="#r" x="441.5" y="232.3"/>
<use href="#r" x="441.5" y="260.4"/>
<use href="#r" x="441.6" y="346.6"/>
<use href="#r" x="442" y="313.9"/>
<use href="#r" x="442.1" y="322.1"/>
<use href="#r" x="442.5" y="227.7"/>
<use href="#r" x="442.5" y="326.2"/>
<use href="#r" x="442.5" y="343.5"/>
<use href="#r" x="443" y="190.5"/>
<use href="#r" x="443.3" y="330.3"/>
<use href="#r" x="443.3" y="293.3"/>
<use href="#r" x="443.4" y="387.5"/>
<use href="#r" x="443.8" y="223.8"/>
<use href="#r" x="443.8" y="232.3"/>
<use href="#r" x="443.9" y="362.9"/>
<use href="#r" x="444.1" y="182.5"/>
<use href="#r" x="444.1" y="346.6"/>
<use href="#r" x="444.4" y="199"/>
<use href="#r" x="444.6" y="313.9"/>
<use href="#r" x="444.7" y="322.1"/>
<use href="#r" x="445" y="326.2"/>
<use href="#r" x="445" y="343.5"/>
<use href="#r" x="445.2" y="215.6"/>
<use href="#r" x="445.2" y="380.9"/>
<use href="#r" x="445.7" y="387.5"/>
<use href="#r" x="445.8" y="211.2"/>
<use href="#r" x="445.9" y="395.6"/>
<use href="#r" x="445.9" y="330.3"/>
<use href="#r" x="446.6" y="346.6"/>
<use href="#r" x="447" y="199"/>
<use href="#r" x="447.2" y="313.9"/>
<use href="#r" x="447.3" y="322.1"/>
<use href="#r" x="447.5" y="343.5"/>
<use href="#r" x="447.9" y="366.9"/>
<use href="#r" x="447.9" y="387.5"/>
<use href="#r" x="448.5" y="371.1"/>
<use href="#r" x="448.5" y="379.3"/>
<use href="#r" x="448.5" y="330.3"/>
<use href="#r" x="448.7" y="395.6"/>
<use href="#r" x="449.1" y="207.3"/>
<use href="#r" x="449.1" y="346.6"/>
<use href="#r" x="449.6" y="199"/>
<use href="#r" x="449.7" y="313.9"/>
<use href="#r" x="449.9" y="322.1"/>
<use href="#r" x="449.9" y="297.6"/>
<use href="#r" x="450" y="207.3"/>
<use href="#r" x="450" y="343.5"/>
<use href="#r" x="450.5" y="362.9"/>
<use href="#r" x="451" y="190.5"/>
<use href="#r" x="451.1" y="330.3"/>
<use href="#r" x="451.4" y="395.6"/>
<use href="#r" x="451.6" y="346.6"/>
<use href="#r" x="451.7" y="223.8"/>
<use href="#r" x="452" y="223.8"/>
<use href="#r" x="452.2" y="199"/>
<use href="#r" x="452.3" y="313.9"/>
<use href="#r" x="452.5" y="322.1"/>
<use href="#r" x="452.5" y="343.5"/>
<use href="#r" x="453" y="232.3"/>
<use href="#r" x="453.1" y="190.5"/>
<use href="#r" x="453.2" y="362.9"/>
<use href="#r" x="453.7" y="330.3"/>
<use href="#r" x="453.8" y="387.5"/>
<use href="#r" x="453.9" y="182.5"/>
<use href="#r" x="454.1" y="346.6"/>
<use href="#r" x="454.2" y="395.6"/>
<use href="#r" x="454.6" y="232.3"/>
<use href="#r" x="454.8" y="199"/>
<use href="#r" x="454.9" y="313.9"/>
<use href="#r" x="455" y="343.5"/>
<use href="#r" x="455.1" y="322.1"/>
<use href="#r" x="455.2" y="166.8"/>
<use href="#r" x="455.8" y="362.9"/>
<use href="#r" x="456.3" y="330.3"/>
<use href="#r" x="456.6" y="346.6"/>
<use href="#r" x="457" y="395.6"/>
<use href="#r" x="457.3" y="199"/>
<use href="#r" x="457.5" y="313.9"/>
<use href="#r" x="457.6" y="254.4"/>
<use href="#r" x="457.7" y="322.1"/>
<use href="#r" x="458.5" y="227.7"/>
<use href="#r" x="458.5" y="362.9"/>
<use href="#r" x="458.5" y="366.9"/>
<use href="#r" x="458.5" y="384"/>
<use href="#r" x="458.9" y="330.3"/>
<use href="#r" x="459" y="186.5"/>
<use href="#r" x="459.1" y="346.6"/>
<use href="#r" x="459.7" y="395.6"/>
<use href="#r" x="459.8" y="401.7"/>
<use href="#r" x="459.9" y="199"/>
<use href="#r" x="460" y="326.2"/>
<use href="#r" x="460" y="313.9"/>
<use href="#r" x="460.2" y="322.1"/>
<use href="#r" x="461.1" y="379.3"/>
<use href="#r" x="461.2" y="186.5"/>
<use href="#r" x="461.5" y="330.3"/>
<use href="#r" x="461.8" y="232.3"/>
<use href="#r" x="462.5" y="326.2"/>
<use href="#r" x="462.5" y="395.6"/>
<use href="#r" x="462.5" y="199"/>
<use href="#r" x="462.6" y="313.9"/>
<use href="#r" x="462.8" y="322.1"/>
<use href="#r" x="463.4" y="186.5"/>
<use href="#r" x="463.8" y="366.9"/>
<use href="#r" x="463.8" y="384"/>
<use href="#r" x="464.1" y="330.3"/>
<use href="#r" x="464.2" y="211.2"/>
<use href="#r" x="464.5" y="223.8"/>
<use href="#r" x="464.8" y="182.5"/>
<use href="#r" x="465" y="326.2"/>
<use href="#r" x="465.1" y="199"/>
<use href="#r" x="465.2" y="313.9"/>
<use href="#r" x="465.4" y="322.1"/>
<use href="#r" x="465.8" y="387.5"/>
<use href="#r" x="466.4" y="375.1"/>
<use href="#r" x="466.4" y="403.8"/>
<use href="#r" x="466.7" y="330.3"/>
<use href="#r" x="467" y="186.5"/>
<use href="#r" x="467.5" y="326.2"/>
<use href="#r" x="467.7" y="190.5"/>
<use href="#r" x="467.7" y="199"/>
<use href="#r" x="467.8" y="313.9"/>
<use href="#r" x="467.8" y="362.9"/>
<use href="#r" x="468" y="322.1"/>
<use href="#r" x="468.4" y="227.7"/>
<use href="#r" x="469.4" y="330.3"/>
<use href="#r" x="469.7" y="232.3"/>
<use href="#r" x="470" y="326.2"/>
<use href="#r" x="470.3" y="313.9"/>
<use href="#r" x="470.5" y="362.9"/>
<use href="#b" x="470.5" y="395.3"/>
<use href="#r" x="470.6" y="322.1"/>
<use href="#r" x="470.6" y="190.5"/>
<use href="#r" x="471.4" y="186.5"/>
<use href="#r" x="472" y="330.3"/>
<use href="#r" x="472" y="232.3"/>
<use href="#r" x="472.1" y="182.5"/>
<use href="#r" x="472.5" y="326.2"/>
<use href="#r" x="472.8" y="199"/>
<use href="#r" x="472.9" y="313.9"/>
<use href="#r" x="473.1" y="362.9"/>
<use href="#r" x="473.2" y="322.1"/>
<use href="#r" x="473.6" y="190.5"/>
<use href="#r" x="474.3" y="215.6"/>
<use href="#r" x="474.3" y="232.3"/>
<use href="#r" x="474.4" y="371.1"/>
<use href="#r" x="474.4" y="399.1"/>
<use href="#r" x="474.6" y="330.3"/>
<use href="#r" x="475" y="186.5"/>
<use href="#r" x="475" y="326.2"/>
<use href="#r" x="475.5" y="313.9"/>
<use href="#r" x="475.7" y="387.5"/>
<use href="#r" x="475.8" y="199"/>
<use href="#r" x="475.8" y="322.1"/>
<use href="#r" x="475.8" y="362.9"/>
<use href="#r" x="476.3" y="206.6"/>
<use href="#r" x="476.3" y="223.8"/>
<use href="#r" x="477" y="227.7"/>
<use href="#b" x="477" y="407.7"/>
<use href="#r" x="477.2" y="330.3"/>
<use href="#r" x="477.5" y="326.2"/>
<use href="#r" x="478.1" y="313.9"/>
<use href="#r" x="478.3" y="211.2"/>
<use href="#r" x="478.4" y="322.1"/>
<use href="#b" x="478.4" y="403.7"/>
<use href="#r" x="478.5" y="362.9"/>
<use href="#r" x="478.7" y="190.5"/>
<use href="#r" x="478.7" y="199"/>
<use href="#r" x="479.6" y="232.3"/>
<use href="#r" x="479.8" y="330.3"/>
<use href="#r" x="480" y="326.2"/>
<use href="#b" x="480" y="360.2"/>
<use href="#r" x="480.1" y="182.5"/>
<use href="#r" x="480.6" y="313.9"/>
<use href="#r" x="480.9" y="322.1"/>
<use href="#r" x="481" y="395.6"/>
<use href="#r" x="481.2" y="362.9"/>
<use href="#r" x="481.5" y="215.6"/>
<use href="#b" x="481.9" y="386.7"/>
<use href="#r" x="482.4" y="330.3"/>
<use href="#r" x="482.4" y="379.3"/>
<use href="#r" x="482.4" y="403.8"/>
<use href="#b" x="483" y="403.7"/>
<use href="#r" x="483.2" y="313.9"/>
<use href="#r" x="483.5" y="322.1"/>
<use href="#r" x="483.7" y="389"/>
<use href="#r" x="483.8" y="186.5"/>
<use href="#r" x="483.8" y="362.9"/>
<use href="#r" x="485" y="330.3"/>
<use href="#r" x="485" y="379.3"/>
<use href="#r" x="485.3" y="297.6"/>
<use href="#r" x="485.5" y="232.3"/>
<use href="#b" x="485.7" y="403.7"/>
<use href="#r" x="485.8" y="313.9"/>
<use href="#r" x="486.1" y="322.1"/>
<use href="#r" x="486.5" y="362.9"/>
<use href="#r" x="486.7" y="199"/>
<use href="#r" x="487.4" y="182.5"/>
<use href="#r" x="487.6" y="330.3"/>
<use href="#r" x="487.7" y="375.1"/>
<use href="#r" x="488.1" y="232.3"/>
<use href="#b" x="488.4" y="403.7"/>
<use href="#r" x="488.4" y="313.9"/>
<use href="#b" x="488.5" y="390.5"/>
<use href="#r" x="488.7" y="322.1"/>
<use href="#r" x="489" y="366.9"/>
<use href="#r" x="489" y="395.6"/>
<use href="#r" x="489.2" y="362.9"/>
<use href="#r" x="489.3" y="375.5"/>
<use href="#b" x="489.3" y="391.1"/>
<use href="#r" x="489.3" y="199"/>
<use href="#r" x="490.2" y="330.3"/>
<use href="#r" x="490.4" y="186.5"/>
<use href="#r" x="490.7" y="366.9"/>
<use href="#b" x="490.7" y="376.8"/>
<use href="#r" x="490.8" y="232.3"/>
<use href="#r" x="490.9" y="313.9"/>
<use href="#b" x="491" y="403.7"/>
<use href="#r" x="491.3" y="322.1"/>
<use href="#b" x="491.5" y="376.8"/>
<use href="#r" x="491.9" y="362.9"/>
<use href="#r" x="492" y="199"/>
<use href="#r" x="492" y="221"/>
<use href="#r" x="492.3" y="346.6"/>
<use href="#r" x="492.8" y="330.3"/>
<use href="#r" x="493.3" y="190.5"/>
<use href="#r" x="493.4" y="232.3"/>
<use href="#r" x="493.4" y="227.7"/>
<use href="#r" x="493.5" y="313.9"/>
<use href="#b" x="493.7" y="403.7"/>
<use href="#r" x="493.9" y="322.1"/>
<use href="#r" x="494.5" y="362.9"/>
<use href="#r" x="494.6" y="199"/>
<use href="#r" x="494.7" y="346.6"/>
<use href="#r" x="495.3" y="375.5"/>
<use href="#r" x="495.4" y="330.3"/>
<use href="#r" x="496" y="379.3"/>
<use href="#r" x="496" y="232.3"/>
<use href="#r" x="496.1" y="313.9"/>
<use href="#r" x="496.3" y="403.8"/>
<use href="#r" x="496.5" y="322.1"/>
<use href="#r" x="497.1" y="346.6"/>
<use href="#r" x="497.2" y="362.9"/>
<use href="#r" x="497.3" y="199"/>
<use href="#r" x="497.3" y="371.1"/>
<use href="#r" x="497.3" y="387.5"/>
<use href="#r" x="497.8" y="375.5"/>
<use href="#r" x="498" y="330.3"/>
<use href="#r" x="498.5" y="293.3"/>
<use href="#r" x="498.6" y="403.8"/>
<use href="#r" x="498.6" y="232.3"/>
<use href="#r" x="499.1" y="322.1"/>
<use href="#r" x="499.1" y="186.5"/>
<use href="#r" x="499.4" y="346.6"/>
<use href="#r" x="499.9" y="362.9"/>
<use href="#r" x="499.9" y="199"/>
<use href="#r" x="500" y="326.2"/>
<use href="#r" x="500" y="379.3"/>
<use href="#r" x="500.2" y="375.5"/>
<use href="#r" x="500.6" y="330.3"/>
<use href="#r" x="500.9" y="403.8"/>
<use href="#r" x="501" y="412"/>
<use href="#r" x="501.3" y="232.3"/>
<use href="#r" x="501.3" y="371.1"/>
<use href="#r" x="501.7" y="322.1"/>
<use href="#r" x="501.8" y="186.5"/>
<use href="#r" x="501.8" y="346.6"/>
<use href="#r" x="502.5" y="297.6"/>
<use href="#r" x="502.5" y="326.2"/>
<use href="#r" x="502.6" y="362.9"/>
<use href="#r" x="502.6" y="395.6"/>
<use href="#r" x="502.7" y="375.5"/>
<use href="#r" x="503.2" y="403.8"/>
<use href="#r" x="503.2" y="330.3"/>
<use href="#r" x="503.3" y="387.5"/>
<use href="#r" x="503.9" y="227.7"/>
<use href="#r" x="503.9" y="232.3"/>
<use href="#r" x="504.2" y="322.1"/>
<use href="#r" x="504.5" y="186.5"/>
<use href="#r" x="504.6" y="395.6"/>
<use href="#r" x="505" y="326.2"/>
<use href="#r" x="505.2" y="375.5"/>
<use href="#r" x="505.2" y="362.9"/>
<use href="#r" x="505.5" y="403.8"/>
<use href="#r" x="505.6" y="313.9"/>
<use href="#r" x="505.7" y="199"/>
<use href="#r" x="505.8" y="330.3"/>
<use href="#r" x="506.5" y="232.3"/>
<use href="#r" x="506.6" y="395.6"/>
<use href="#r" x="506.8" y="322.1"/>
<use href="#r" x="507.2" y="182.5"/>
<use href="#r" x="507.2" y="186.5"/>
<use href="#r" x="507.2" y="227.7"/>
<use href="#r" x="507.5" y="326.2"/>
<use href="#r" x="507.5" y="336"/>
<use href="#r" x="507.9" y="362.9"/>
<use href="#r" x="508" y="313.9"/>
<use href="#r" x="508.1" y="199"/>
<use href="#r" x="508.4" y="330.3"/>
<use href="#r" x="509.2" y="232.3"/>
<use href="#r" x="509.4" y="346.6"/>
<use href="#r" x="509.4" y="322.1"/>
<use href="#r" x="509.9" y="366.9"/>
<use href="#r" x="509.9" y="387.5"/>
<use href="#r" x="509.9" y="403.8"/>
<use href="#r" x="510" y="326.2"/>
<use href="#r" x="510.4" y="313.9"/>
<use href="#r" x="510.6" y="199"/>
<use href="#r" x="511" y="330.3"/>
<use href="#r" x="511.2" y="389.8"/>
<use href="#r" x="511.5" y="182.5"/>
<use href="#r" x="511.8" y="232.3"/>
<use href="#b" x="511.9" y="403.7"/>
<use href="#r" x="512" y="322.1"/>
<use href="#r" x="512.4" y="403.8"/>
<use href="#r" x="512.5" y="326.2"/>
<use href="#r" x="512.5" y="362.9"/>
<use href="#r" x="512.5" y="375.5"/>
<use href="#r" x="512.7" y="313.9"/>
<use href="#r" x="513" y="199"/>
<use href="#r" x="513.2" y="399"/>
<use href="#r" x="513.3" y="240.4"/>
<use href="#r" x="513.6" y="330.3"/>
<use href="#r" x="513.7" y="190.5"/>
<use href="#b" x="514.5" y="403.7"/>
<use href="#r" x="514.6" y="322.1"/>
<use href="#r" x="514.8" y="403.8"/>
<use href="#r" x="515" y="326.2"/>
<use href="#r" x="515" y="362.9"/>
<use href="#r" x="515.1" y="313.9"/>
<use href="#b" x="515.2" y="416.2"/>
<use href="#r" x="515.9" y="179.3"/>
<use href="#r" x="516.3" y="330.3"/>
<use href="#r" x="516.5" y="366.9"/>
<use href="#r" x="516.9" y="293.3"/>
<use href="#r" x="517.2" y="322.1"/>
<use href="#b" x="517.2" y="403.7"/>
<use href="#b" x="517.2" y="376.8"/>
<use href="#r" x="517.3" y="403.8"/>
<use href="#r" x="517.5" y="326.2"/>
<use href="#r" x="517.5" y="362.9"/>
<use href="#r" x="518.8" y="182.5"/>
<use href="#r" x="518.9" y="330.3"/>
<use href="#r" x="519.8" y="322.1"/>
<use href="#b" x="519.8" y="403.7"/>
<use href="#r" x="520" y="326.2"/>
<use href="#r" x="520" y="362.9"/>
<use href="#r" x="521" y="193.2"/>
<use href="#r" x="521.5" y="330.3"/>
<use href="#r" x="522.4" y="322.1"/>
<use href="#r" x="522.5" y="182.5"/>
<use href="#r" x="522.5" y="362.9"/>
<use href="#b" x="522.5" y="378.5"/>
<use href="#b" x="522.5" y="399.1"/>
<use href="#b" x="522.5" y="403.7"/>
<use href="#r" x="523.8" y="371.1"/>
<use href="#r" x="524.1" y="330.3"/>
<use href="#r" x="524.2" y="225.7"/>
<use href="#r" x="525" y="322.1"/>
<use href="#b" x="525.1" y="412.2"/>
<use href="#b" x="525.1" y="403.7"/>
<use href="#r" x="526.5" y="313.9"/>
<use href="#r" x="526.7" y="330.3"/>
<use href="#r" x="526.9" y="182.5"/>
<use href="#r" x="526.9" y="199"/>
<use href="#r" x="527.5" y="322.1"/>
<use href="#b" x="527.8" y="371.5"/>
<use href="#b" x="527.8" y="387.1"/>
<use href="#b" x="527.8" y="403.7"/>
<use href="#r" x="528.2" y="215.6"/>
<use href="#r" x="528.2" y="297.6"/>
<use href="#r" x="528.3" y="190.5"/>
<use href="#b" x="528.5" y="420"/>
<use href="#b" x="529.1" y="366.6"/>
<use href="#b" x="529.1" y="383.8"/>
<use href="#r" x="529.3" y="330.3"/>
<use href="#b" x="529.8" y="378.5"/>
<use href="#r" x="530.1" y="322.1"/>
<use href="#r" x="531.1" y="362.9"/>
<use href="#r" x="531.8" y="366.9"/>
<use href="#r" x="531.9" y="330.3"/>
<use href="#b" x="532.4" y="387.1"/>
<use href="#r" x="532.7" y="322.1"/>
<use href="#b" x="533.1" y="371.5"/>
<use href="#b" x="533.1" y="401.7"/>
<use href="#r" x="533.8" y="403.8"/>
<use href="#r" x="534.1" y="362.9"/>
<use href="#r" x="534.4" y="379.3"/>
<use href="#b" x="534.4" y="366.6"/>
<use href="#r" x="534.5" y="330.3"/>
<use href="#r" x="535.3" y="322.1"/>
<use href="#b" x="535.7" y="371.5"/>
<use href="#r" x="537" y="334.7"/>
<use href="#r" x="537.1" y="379.3"/>
<use href="#r" x="537.1" y="330.3"/>
<use href="#r" x="537.1" y="362.9"/>
<use href="#r" x="537.6" y="267"/>
<use href="#r" x="537.7" y="407.5"/>
<use href="#b" x="537.7" y="364.6"/>
<use href="#r" x="537.9" y="322.1"/>
<use href="#b" x="538.4" y="379.9"/>
<use href="#b" x="538.4" y="393.1"/>
<use href="#r" x="539" y="260.4"/>
<use href="#r" x="539.7" y="309.6"/>
<use href="#r" x="539.7" y="330.3"/>
<use href="#r" x="539.7" y="379.3"/>
<use href="#b" x="541" y="403.7"/>
<use href="#b" x="541" y="412.2"/>
<use href="#r" x="541.8" y="395.6"/>
<use href="#r" x="542.4" y="371.1"/>
<use href="#r" x="542.4" y="379.3"/>
<use href="#r" x="542.9" y="207.3"/>
<use href="#r" x="543.6" y="256.7"/>
<use href="#r" x="544.8" y="358.2"/>
<use href="#b" x="546.3" y="416.2"/>
<use href="#b" x="546.4" y="362.6"/>
<use href="#b" x="546.4" y="403.7"/>
<use href="#b" x="547" y="390.5"/>
<use href="#b" x="547.3" y="413.6"/>
<use href="#b" x="547.7" y="387.1"/>
<use href="#r" x="548.3" y="379.3"/>
</g>
<polyline fill="none" stroke="#505050" stroke-width="3.3" stroke-linejoin="round" stroke-linecap="round" points="73.6,461 80,460.3 87.6,459.4 90.5,457.5 93.4,455.4 102.2,454 116.8,450.4 131.4,446 146,440.1 160.6,433.6 170,429.8 192.7,417.7 215.5,403 238.2,385.9 260.9,367.7 279.1,351.8 294.7,336.6 300.8,333.3 318.9,317.7 337.9,298.7 356.8,276.9 375.8,258 383.8,250 394,239.2 403.9,227.9 413.4,217.5 422.9,207 432.3,197.9 443.7,187.8 453.1,177 462.6,167.5 470.9,161.6 478.5,160.6 486,159.3 497.4,149.3 507,140.7 520.2,129.7 525.9,127.4 533.5,127.1 541.1,124 548.7,119.3 548.7,140.3"/>
<circle cx="73.6" cy="461" r="3.6" fill="#000"/>
<circle cx="300.8" cy="333.3" r="3.6" fill="#000"/>
<circle cx="470.9" cy="161.6" r="3.6" fill="#000"/>
<circle cx="548.7" cy="119.3" r="3.6" fill="#000"/>
<circle cx="548.7" cy="140.3" r="3.6" fill="#000"/>
<g font-family="Liberation Serif" fill="#000" font-size="28">
<text x="80.6" y="445.3">O</text>
<text x="299.4" y="356.7">A</text>
<text x="458.4" y="152.7">B</text>
<text x="535.4" y="111.2">C</text>
<text x="545" y="167.6">D</text>
</g>
<g font-family="Liberation Serif" fill="#000" font-size="25">
<text x="581.5" y="232.7">HF</text><text x="586" y="345">IF</text><text x="583.6" y="452">LF</text>
</g>
<g stroke="#000" stroke-width="2" fill="none">
<path d="M73.7,13.9V462" stroke-width="1.7"/><path d="M72.8,461.3H618.2" stroke-width="1.9"/><path d="M617.4,13.9V462" stroke-width="1.7"/>
<path d="M65.6,461H73.6M69.6,405.2H73.6M65.6,349.4H73.6M69.6,293.7H73.6M65.6,237.9H73.6M69.6,182.1H73.6M65.6,126.3H73.6M69.6,70.5H73.6M65.6,14.8H73.6M617.4,461H624.4M617.4,416.4H621M617.4,371.7H624.4M617.4,327.1H621M617.4,282.5H624.4M617.4,237.8H621M617.4,193.2H624.4M617.4,148.6H621M617.4,104H624.4M617.4,59.3H621M617.4,14.7H624.4M73.6,461.0V469M141.6,461.0V465M209.5,461.0V469M277.5,461.0V465M345.5,461.0V469M413.4,461.0V465M481.4,461.0V469M549.3,461.0V465M617.3,461.0V469"/>
</g>
<g font-family="Liberation Serif" fill="#000" font-size="23">
<text x="59.2" y="467.3" text-anchor="end">0</text>
<text x="59.2" y="355.7" text-anchor="end">40</text>
<text x="59.2" y="244.2" text-anchor="end">80</text>
<text x="59.2" y="132.6" text-anchor="end">120</text>
<text x="59.2" y="21.1" text-anchor="end">160</text>
<text x="631.2" y="467">0</text>
<text x="631.2" y="377.7">20</text>
<text x="631.2" y="288.5">40</text>
<text x="631.2" y="199.2">60</text>
<text x="631.2" y="110">80</text>
<text x="631.2" y="20.7">100</text>
<text x="73.6" y="492.6" text-anchor="middle">0</text>
<text x="209.5" y="492.6" text-anchor="middle">50</text>
<text x="345.5" y="492.6" text-anchor="middle">100</text>
<text x="481.4" y="492.6" text-anchor="middle">150</text>
<text x="617.3" y="492.6" text-anchor="middle">200</text>
<text x="346" y="526" text-anchor="middle" font-size="23.5">Time/s</text>
<text transform="translate(17,238.3) rotate(-90)" text-anchor="middle" font-size="23.5">Peak frequency/kHz</text>
<text transform="translate(684,239) rotate(-90)" text-anchor="middle" font-size="24">Stress/MPa</text>
</g>
<rect x="115" y="24" width="102.5" height="32.3" fill="#0a34fb"/><rect x="217.5" y="24" width="102.5" height="32.3" fill="#ff0a14"/>
<g font-family="Liberation Serif" fill="#000" font-size="23.4"><text x="217.9" y="16.6" text-anchor="middle">Amplitude/dB</text><text x="413.7" y="45.3">Stress</text></g>
<g font-family="Liberation Serif" fill="#000" font-size="22"><text x="115" y="74.3" text-anchor="middle">90.0</text><text x="218" y="74.3" text-anchor="middle">75.0</text><text x="320.2" y="74.3" text-anchor="middle">60.0</text></g>
<line x1="354" x2="409" y1="37" y2="37" stroke="#555" stroke-width="3" stroke-linecap="round"/>
</svg>
</body></html>
